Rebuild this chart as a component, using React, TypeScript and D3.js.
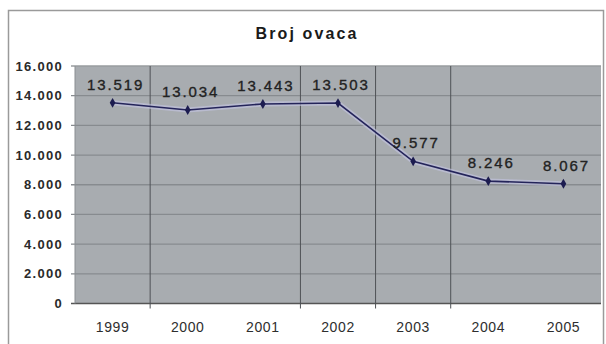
import React from "react";
import * as d3 from "d3";

const years = ["1999", "2000", "2001", "2002", "2003", "2004", "2005"];
const sheep = [13519, 13034, 13443, 13503, 9577, 8246, 8067];
const yTicks = [0, 2000, 4000, 6000, 8000, 10000, 12000, 14000, 16000];
const dividerAfter = ["1999", "2001", "2002", "2003"];
const title = "Broj ovaca";

const W = 606;
const H = 344;
const plot = { left: 75, right: 601, top: 66, bottom: 303.5 };

const fmt = (v: number) =>
  v === 0 ? "0" : d3.format(",")(v).replace(/,/g, ".");

export default function App() {
  const x = d3
    .scaleBand<string>()
    .domain(years)
    .range([plot.left, plot.right])
    .padding(0);
  const y = d3.scaleLinear().domain([0, 16000]).range([plot.bottom, plot.top]);
  const cx = (yr: string) => (x(yr) as number) + x.bandwidth() / 2;

  const line = d3
    .line<number>()
    .x((_, i) => cx(years[i]))
    .y((d) => y(d));
  const path = line(sheep) || "";
  const diamond = d3.symbol().type(d3.symbolDiamond).size(28)() || "";

  return (
    <svg
      width={W}
      height={H}
      style={{ position: "absolute", left: 0, top: 0, background: "#fff" }}
    >
      <rect x={0} y={0} width={W} height={H} fill="#ffffff" />
      {/* outer chart border */}
      <rect
        x={8.5}
        y={10.5}
        width={595}
        height={H + 10}
        fill="none"
        stroke="#9a9a9a"
        strokeWidth={1.5}
      />
      <text
        x={307}
        y={39}
        textAnchor="middle"
        fontFamily="Liberation Sans, Arial, sans-serif"
        fontWeight="bold"
        fontSize={16}
        letterSpacing={2.1}
        fill="#1a1a1a"
      >
        {title}
      </text>

      {/* plot area */}
      <rect
        x={plot.left}
        y={plot.top}
        width={plot.right - plot.left}
        height={plot.bottom - plot.top}
        fill="#a8acb0"
      />
      {yTicks.map((t) => (
        <g key={t}>
          <line
            x1={plot.left - 4}
            x2={plot.right}
            y1={y(t)}
            y2={y(t)}
            stroke={t === 0 ? "#555" : t === 16000 ? "#999c9f" : "#878b8f"}
            strokeWidth={t === 0 ? 1.5 : 1.3}
          />
          <text
            x={63}
            y={y(t) + 4.5}
            textAnchor="end"
            fontFamily="Liberation Sans, Arial, sans-serif"
            fontWeight="bold"
            fontSize={13}
            letterSpacing={1.3}
            fill="#2a2a2a"
          >
            {fmt(t)}
          </text>
        </g>
      ))}
      {/* left axis line */}
      <line
        x1={plot.left}
        x2={plot.left}
        y1={plot.top}
        y2={plot.bottom}
        stroke="#8a8e92"
        strokeWidth={1}
      />
      {dividerAfter.map((yr) => {
        const xx = (x(yr) as number) + x.bandwidth();
        return (
          <line
            key={yr}
            x1={xx}
            x2={xx}
            y1={plot.top}
            y2={plot.bottom + 5}
            stroke="#4e5256"
            strokeWidth={1}
          />
        );
      })}

      {/* series */}
      <path
        d={path}
        fill="none"
        stroke="#c4c4e4"
        strokeOpacity={0.6}
        strokeWidth={5}
      />
      <path d={path} fill="none" stroke="#24245a" strokeWidth={1.6} />
      {sheep.map((v, i) => (
        <path
          key={i}
          d={diamond}
          transform={`translate(${cx(years[i])},${y(v)})`}
          fill="#1c1c50"
        />
      ))}
      {sheep.map((v, i) => (
        <text
          key={"l" + i}
          x={cx(years[i]) + 3}
          y={y(v) - 13}
          textAnchor="middle"
          fontFamily="Liberation Sans, Arial, sans-serif"
          fontSize={15}
          letterSpacing={1.9}
          fill="#222"
          stroke="#222"
          strokeWidth={0.35}
        >
          {fmt(v)}
        </text>
      ))}

      {years.map((yr) => (
        <text
          key={yr}
          x={cx(yr)}
          y={332}
          textAnchor="middle"
          fontFamily="Liberation Sans, Arial, sans-serif"
          fontSize={14}
          letterSpacing={0.6}
          fill="#2e2e2e"
        >
          {yr}
        </text>
      ))}
    </svg>
  );
}
